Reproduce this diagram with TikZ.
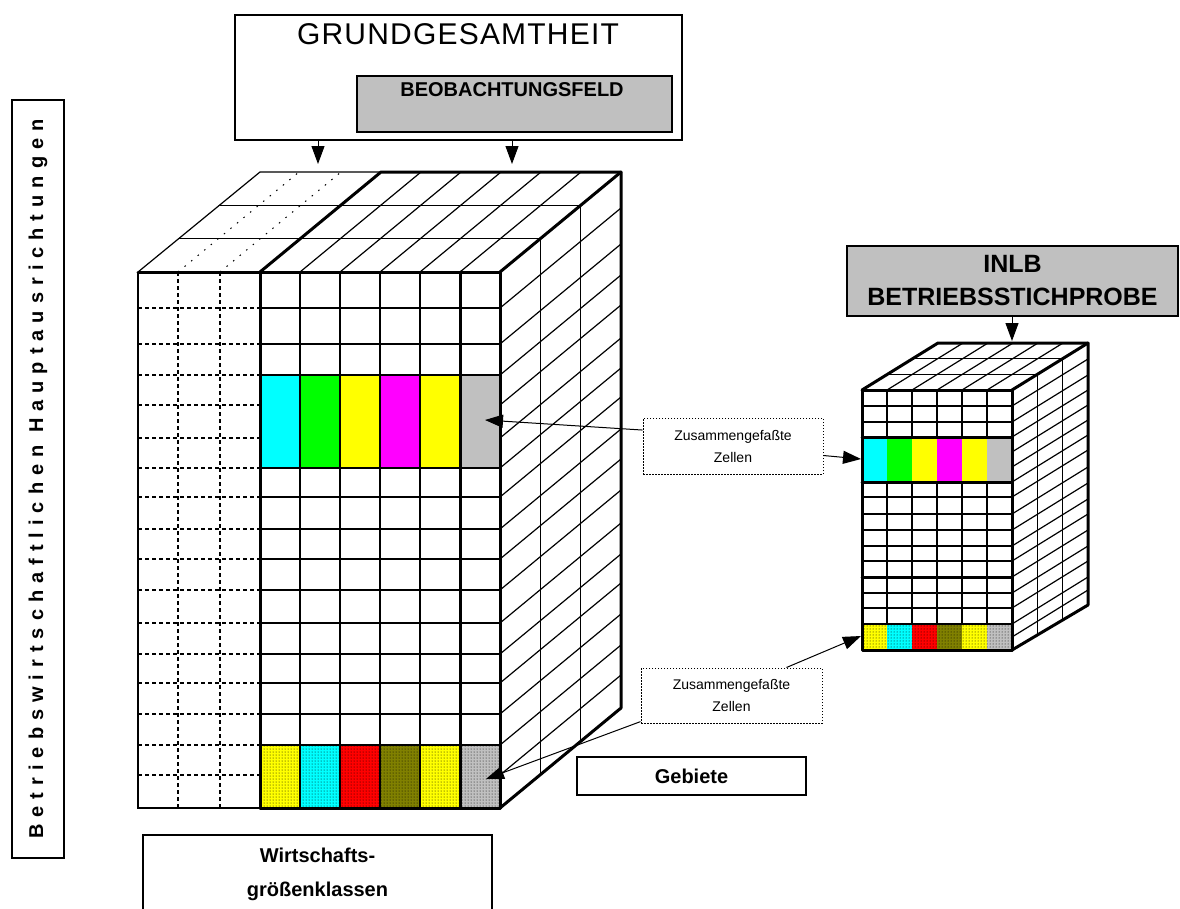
\documentclass[tikz,border=0pt]{standalone}
\usepackage{fontspec}
\setmainfont{Liberation Sans}
\newfontfamily\spacedfont[LetterSpace=35]{Liberation Sans}
\newfontfamily\headfont[LetterSpace=4]{Liberation Sans}
\usetikzlibrary{positioning,arrows.meta,patterns}

\definecolor{cellcyan}{RGB}{0,255,255}
\definecolor{cellgreen}{RGB}{0,255,0}
\definecolor{cellyellow}{RGB}{255,255,0}
\definecolor{cellmagenta}{RGB}{255,0,255}
\definecolor{cellgray}{RGB}{192,192,192}
\definecolor{cellred}{RGB}{255,0,0}
\definecolor{cellolive}{RGB}{128,128,0}

\begin{document}
\begin{tikzpicture}[
  x=1pt, y=-1pt,
  gridline/.style={line width=1.2pt},
  edgeline/.style={line width=3pt, line cap=round, line join=round},
  dashline/.style={line width=1.2pt, dash pattern=on 4pt off 3pt},
  faintline/.style={line width=1pt, dash pattern=on 1.5pt off 7pt},
  frame/.style={draw, line width=1.2pt, inner sep=0pt},
  graybox/.style={frame, fill=cellgray},
  callout/.style={draw, line width=1pt, dash pattern=on 1.5pt off 1.5pt, minimum width=180, minimum height=56,
    align=center, font=\fontsize{14}{22}\selectfont},
  pointer/.style={-{Triangle[length=18pt,width=13pt]}, line width=1pt}
]
\useasboundingbox (0,0) rectangle (1180,908);
\fill[white] (0,0) rectangle (1180,908);

% big cube: top and side faces
\draw[gridline] (138,272) -- (260,172) -- (381,172);
\foreach \x in {178,220}
  \draw[faintline] (\x,272) -- ({\x+121},172);
\foreach \x in {300,340,380,420,460}
  \draw[gridline] (\x,272) -- ({\x+121},172);
\draw[gridline] (178.3,238.7) -- (540.3,238.7) -- (540.3,774.7);
\draw[gridline] (218.7,205.3) -- (580.7,205.3) -- (580.7,741.3);
\foreach \y in {308,344,375,405,438,468,497,529,559,590,623,654,683,714,745,775}
  \draw[gridline] (500,\y) -- (621,{\y-100});

% big cube: front face
\foreach \y in {308,344,375,405,438,468,497,529,559,590,623,654,683,714,745,775}
  \draw[dashline] (138,\y) -- (260,\y);
\foreach \x in {178,220}
  \draw[dashline] (\x,272) -- (\x,808);
\foreach \c [count=\i from 0] in {cellcyan,cellgreen,cellyellow,cellmagenta,cellyellow,cellgray}
  \filldraw[fill=\c, gridline] ({260+40*\i},375) rectangle ++(40,93);
\foreach \c [count=\i from 0] in {cellyellow,cellcyan,cellred,cellolive,cellyellow,cellgray} {
  \fill[\c] ({260+40*\i},745) rectangle ++(40,63);
  \fill[pattern=dots] ({260+40*\i},745) rectangle ++(40,63);
}
\foreach \y in {308,344,375,468,497,529,559,590,623,654,683,714,745}
  \draw[gridline] (260,\y) -- (500,\y);
\foreach \x in {300,340,380,420}
  \draw[gridline] (\x,272) -- (\x,808);
\draw[line width=1.8pt] (138,272) -- (138,808) -- (260,808);
\draw[edgeline] (460,272) -- (460,808);
\draw[edgeline] (260,272) -- (260,808);
\draw[edgeline] (138,272) -- (500,272) -- (500,808) -- (260,808);
\draw[edgeline] (260,272) -- (381,172) -- (621,172) -- (621,708) -- (500,808);
\draw[edgeline] (500,272) -- (621,172);

% small cube: top and side faces
\foreach \x in {887,912,937,962,987}
  \draw[gridline] (\x,390) -- ({\x+76},343);
\draw[gridline] (887.3,374.3) -- (1037.3,374.3) -- (1037.3,634.3);
\draw[gridline] (912.7,358.7) -- (1062.7,358.7) -- (1062.7,618.7);
\foreach \y in {406,422,437,452,467,482,497,514,530,546,561,577,593,608,624,637}
  \draw[gridline] (1012,\y) -- (1088,{\y-47});

% small cube: front face
\foreach \c [count=\i from 0] in {cellcyan,cellgreen,cellyellow,cellmagenta,cellyellow,cellgray}
  \fill[\c] ({862+25*\i},437) rectangle ++(25,45);
\foreach \c [count=\i from 0] in {cellyellow,cellcyan,cellred,cellolive,cellyellow,cellgray} {
  \fill[\c] ({862+25*\i},624) rectangle ++(25,26);
  \fill[pattern=dots] ({862+25*\i},624) rectangle ++(25,26);
}
\foreach \y in {406,422,497,514,530,546,561,593,608,624}
  \draw[gridline] (862,\y) -- (1012,\y);
\foreach \x in {887,912,937,962,987} {
  \draw[gridline] (\x,390) -- (\x,437);
  \draw[gridline] (\x,482) -- (\x,624);
}
\draw[edgeline] (862,437) -- (1012,437);
\draw[edgeline] (862,482) -- (1012,482);
\draw[edgeline] (862,577) -- (1012,577);
\draw[edgeline] (862,390) rectangle (1012,650);
\draw[edgeline] (862,390) -- (938,343) -- (1088,343) -- (1088,605) -- (1012,650);
\draw[edgeline] (1012,390) -- (1088,343);

% boxes and labels
\node[frame, minimum width=447, minimum height=125] (grund) at (458.5,77.5) {};
\node[font=\headfont\fontsize{30}{34}\selectfont] (grundlabel) at (458,34) {GRUNDGESAMTHEIT};
\node[graybox, minimum width=315, minimum height=56] (beob) at (514.5,104) {};
\node[font=\bfseries\fontsize{20}{24}\selectfont] (beoblabel) at (512,90) {BEOBACHTUNGSFELD};
\node[graybox, minimum width=331, minimum height=70, align=center,
  font=\bfseries\fontsize{25}{33}\selectfont] (inlb) at (1012.5,281) {INLB\\BETRIEBSSTICHPROBE};
\node[frame, minimum width=229, minimum height=38,
  font=\bfseries\fontsize{20}{24}\selectfont] (gebiete) at (691.5,776) {Gebiete};
\node[frame, minimum width=349, minimum height=100] (wgk) at (317.5,885) {};
\node[align=center, font=\bfseries\fontsize{20}{34}\selectfont] (wgklabel) at (317.5,874) {Wirtschafts-\\größenklassen};
\node[frame, rotate=90, minimum width=758, minimum height=52,
  font=\spacedfont\bfseries\fontsize{20}{22}\selectfont] (hauptlabel) at (38,479)
  {Betriebswirtschaftlichen Hauptausrichtungen};
\node[callout] (bandcall) at (733,446) {Zusammengefaßte\\Zellen};
\node[callout, minimum width=181, minimum height=55] (dotcall) at (731.5,695.5) {Zusammengefaßte\\Zellen};

% connectors
\coordinate (topA) at (318,164);
\coordinate (topB) at (512,164);
\coordinate (topC) at (1012,341);
\coordinate (bigband) at (485,420);
\coordinate (smallband) at (861,459);
\coordinate (smalldots) at (861,636);
\coordinate (bigdots) at (486,779);
\draw[pointer] (grund.south -| topA) -- (topA);
\draw[pointer] (grund.south -| topB) -- (topB);
\draw[pointer] (inlb.south -| topC) -- (topC);
\draw[pointer] (bandcall.170) -- (bigband);
\draw[pointer] (bandcall.-6) -- (smallband);
\draw[pointer] (dotcall.27) -- (smalldots);
\draw[pointer] (dotcall.196) -- (bigdots);
\end{tikzpicture}
\end{document}
